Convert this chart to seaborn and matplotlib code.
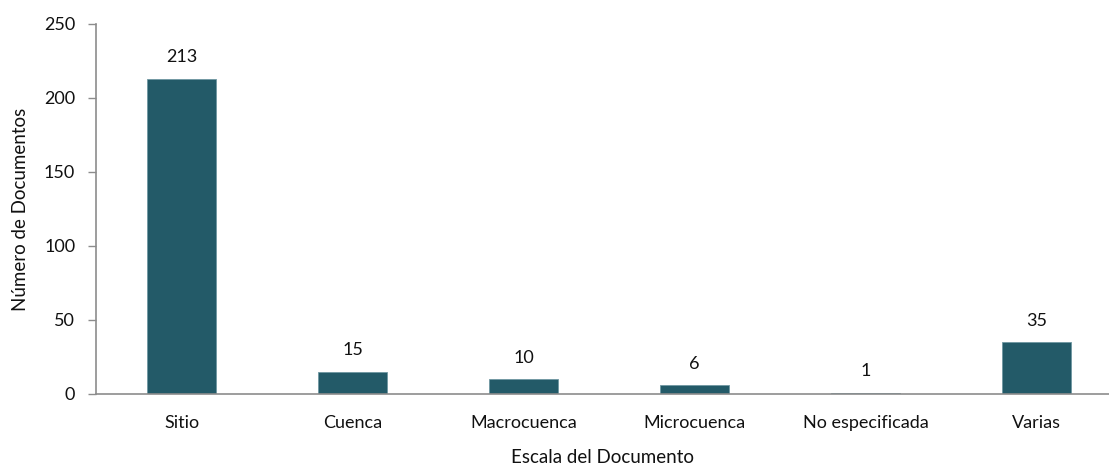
import matplotlib
matplotlib.use("Agg")
import matplotlib.pyplot as plt
import seaborn as sns
import pandas as pd

# Data
categories = ["Sitio", "Cuenca", "Macrocuenca", "Microcuenca", "No especificada", "Varias"]
counts = [213, 15, 10, 6, 1, 35]
y_ticks = [0, 50, 100, 150, 200, 250]

df = pd.DataFrame({"escala": categories, "documentos": counts})

sns.set_theme(style="white")
plt.rcParams["font.family"] = ["Lato", "DejaVu Sans"]

fig = plt.figure(figsize=(11.09, 4.67), dpi=100)
ax = fig.add_axes([96 / 1109, 1 - 394 / 467, 1 - 96 / 1109, (394 - 24) / 467])

bar_color = "#235A68"
sns.barplot(data=df, x="escala", y="documentos", color=bar_color, width=0.4,
            saturation=1, ax=ax, edgecolor="#6F97A2", linewidth=0.6)

# value labels above bars
for i, v in enumerate(counts):
    ax.text(i, v + 9, str(v), ha="center", va="bottom", fontsize=13, color="#111111")

ax.set_ylim(0, 250)
ax.set_xlim(-0.5, -0.5 + (1109 - 96) / 171)
ax.set_yticks(y_ticks)
ax.set_yticklabels([str(t) for t in y_ticks], fontsize=13, color="#111111")
ax.tick_params(axis="x", labelsize=13, colors="#111111", length=0, pad=15)
ax.tick_params(axis="y", left=True, length=6, width=1, color="#8C8C8C", pad=9)

for side in ["top", "right"]:
    ax.spines[side].set_visible(False)
for side in ["left", "bottom"]:
    ax.spines[side].set_color("#8C8C8C")
    ax.spines[side].set_linewidth(1.2)

ax.set_xlabel("Escala del Documento", fontsize=13.5, color="#111111", labelpad=13)
ax.set_ylabel("Número de Documentos", fontsize=13.5, color="#111111", labelpad=11)
ax.grid(False)

fig.savefig("out.png", dpi=100)
